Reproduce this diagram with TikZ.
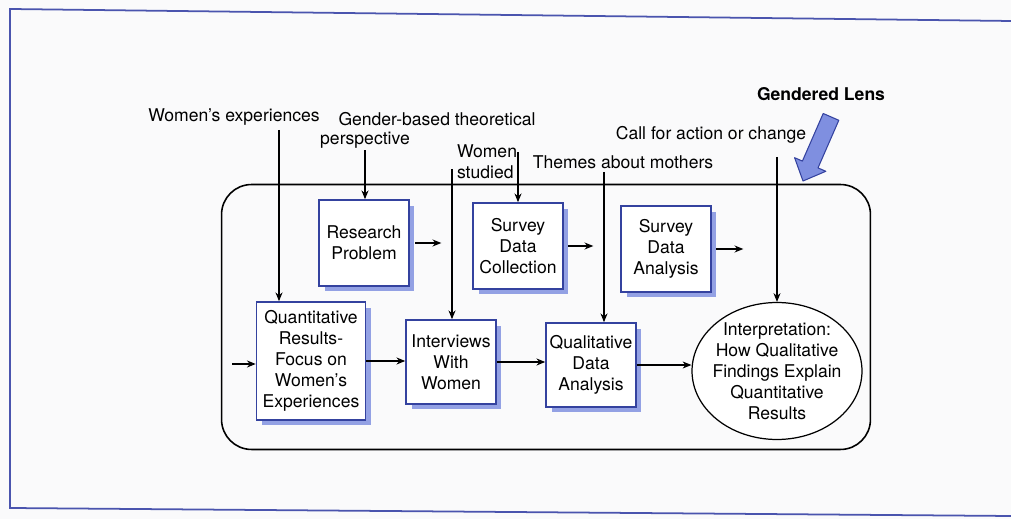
\documentclass[tikz,border=0pt]{standalone}
\usepackage{fontspec}
\setmainfont{TeX Gyre Heros}
\usepackage{xcolor}
\usetikzlibrary{arrows.meta,positioning,calc,shadows,shapes.geometric}

\definecolor{boxblue}{HTML}{34429F}
\definecolor{shadeblue}{HTML}{93A1E4}
\definecolor{lensblue}{HTML}{7F8FE0}
\definecolor{pagebg}{HTML}{FAFAFB}
\definecolor{rimblue}{HTML}{4A54AE}

\begin{document}
\begin{tikzpicture}[
    x=0.02cm, y=-0.02cm,
    >={Stealth[length=5pt,width=4pt]},
    font=\fontsize{10}{12}\selectfont,
    box/.style={draw=boxblue, line width=0.9pt, fill=white, align=center,
      minimum width=1.8cm, minimum height=1.72cm, inner sep=1pt,
      drop shadow={shadow xshift=0.11cm, shadow yshift=-0.11cm,
        fill=shadeblue, opacity=1}},
    interpbox/.style={ellipse, draw, line width=0.7pt, fill=white, align=center,
      minimum width=3.4cm, minimum height=2.74cm, inner xsep=-4pt, inner ysep=-10pt},
    lbl/.style={align=left, inner sep=1pt},
    flow/.style={->, line width=0.6pt},
  ]
  \useasboundingbox (0,0) rectangle (1011,519);
  \fill[pagebg] (0,0) rectangle (1011,519);

  % Page rim
  \draw[rimblue, line width=1pt] (1011,21) -- (10,9) -- (10,508) -- (1011,516);

  % Enclosing frame
  \node[draw, rounded corners=0.6cm, line width=0.9pt,
    minimum width=12.98cm, minimum height=5.3cm] (frame) at (546,317) {};

  % Labels above
  \node[lbl] (wexp) at (234,117) {Women's experiences};
  \node[lbl] (gender) at (437,119) {Gender-based theoretical};
  \node[lbl] (persp) at (365,140) {perspective};
  \node[lbl] (wstud) at (487,162) {Women\\studied};
  \node[lbl] (themes) at (623,162) {Themes about mothers};
  \node[lbl] (call) at (711,135) {Call for action or change};
  \node[lbl, font=\bfseries] (lens) at (821,94) {Gendered Lens};

  % Lens arrow
  \draw[boxblue, fill=lensblue, line width=0.6pt, line join=round]
    (803,181) -- (825.8,171.3) -- (818.0,167.9) -- (838.8,120.3)
    -- (823.2,113.5) -- (802.4,161.1) -- (794.6,157.7) -- cycle;

  % Survey strand
  \node[box] (rp) at (364,243) {Research\\Problem};
  \node[box] (sdc) at (518,246) {Survey\\Data\\Collection};
  \node[box] (sda) at (666,249) {Survey\\Data\\Analysis};

  % Interview strand
  \node[box, minimum width=2.18cm, minimum height=2.36cm] (qres) at (311,361)
    {Quantitative\\Results-\\Focus on\\Women's\\Experiences};
  \node[box, minimum height=1.68cm] (iww) at (451,362) {Interviews\\With\\Women};
  \node[box, minimum height=1.68cm] (qda) at (591,365) {Qualitative\\Data\\Analysis};
  \node[interpbox] (interp) at (777,371)
    {Interpretation:\\How Qualitative\\Findings Explain\\Quantitative\\Results};

  % Feet of the lens lines
  \coordinate (wexp-foot) at (279,130);
  \coordinate (wstud-l) at (452,169);
  \coordinate (wstud-r) at (518,152);
  \coordinate (themes-foot) at (604,172);
  \coordinate (call-foot) at (777,157);
  \coordinate (entry) at (232,364);

  % Edges
  \draw[flow] (wexp-foot) -- (wexp-foot |- qres.north);
  \draw[flow] (persp.south) -- (persp.south |- rp.north);
  \draw[flow] (wstud-l) -- (wstud-l |- iww.north);
  \draw[flow] (wstud-r) -- (wstud-r |- sdc.north);
  \draw[flow] (themes-foot) -- (themes-foot |- qda.north);
  \draw[flow] (call-foot) -- (interp.north);

  \draw[flow] ([xshift=0.11cm]rp.east) -- ++(26,0);
  \draw[flow] ([xshift=0.09cm]sdc.east) -- ++(25,0);
  \draw[flow] ([xshift=0.09cm]sda.east) -- ++(27,0);

  \draw[flow] (entry) -- (entry -| qres.west);
  \draw[flow] (qres.east) -- (qres.east -| iww.west);
  \draw[flow] (iww.east) -- (iww.east -| qda.west);
  \draw[flow] (qda.east) -- (qda.east -| interp.west);
\end{tikzpicture}
\end{document}
